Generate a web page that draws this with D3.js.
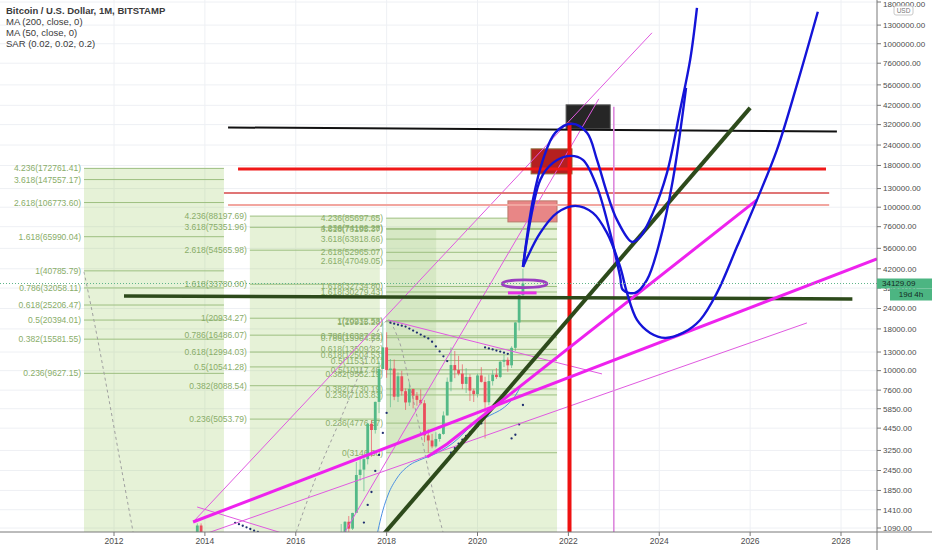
<!DOCTYPE html>
<html><head><meta charset="utf-8">
<script src="https://cdn.jsdelivr.net/npm/d3@7"></script>
<style>body{margin:0;background:#fff;} svg{display:block;font-family:"Liberation Sans",Arial,sans-serif;}</style>
</head><body><svg id="c" width="932" height="550"></svg>
<script>
// ---------------- DATA ----------------
const xTicks = [2012,2014,2016,2018,2020,2022,2024,2026,2028];
const yTicks = [1800000,1300000,1000000,760000,560000,420000,320000,240000,180000,130000,100000,76000,56000,42000,32000,24000,18000,13000,10000,7600,5850,4450,3250,2450,1850,1410,1090];
const lastPrice = 34129.09;
const countdown = "19d 4h";
const legendLines = ["Bitcoin / U.S. Dollar, 1M, BITSTAMP","MA (200, close, 0)","MA (50, close, 0)","SAR (0.02, 0.02, 0.2)"];

// monthly candles [month, open, high, low, close]
const candles = [
["2013-10",128,216,105,204],["2013-11",204,1163,199,1129],["2013-12",1129,1163,450,732],["2014-01",732,995,730,800],["2014-02",800,830,420,550],
["2016-12",745,980,740,963],
["2017-01",963,1153,752,970],["2017-02",970,1200,915,1190],["2017-03",1190,1290,890,1080],["2017-04",1080,1350,1060,1348],
["2017-05",1348,2760,1348,2300],["2017-06",2300,3000,2120,2480],["2017-07",2480,2930,1830,2875],["2017-08",2875,4780,2670,4735],
["2017-09",4735,4980,2972,4335],["2017-10",4335,6470,4120,6440],["2017-11",6440,11400,5500,10233],["2017-12",10233,19666,10900,13880],
["2018-01",13880,17176,9035,10100],["2018-02",10100,11780,5968,10300],["2018-03",10300,11700,6600,6926],["2018-04",6926,9760,6430,9240],
["2018-05",9240,9990,7040,7490],["2018-06",7490,7780,5750,6390],["2018-07",6390,8500,6080,7730],["2018-08",7730,7750,5880,7030],
["2018-09",7030,7400,6100,6625],["2018-10",6625,7680,6200,6317],["2018-11",6317,6600,3650,4020],["2018-12",4020,4380,3146,3740],
["2019-01",3740,4100,3350,3440],["2019-02",3440,4200,3380,3820],["2019-03",3820,4140,3680,4100],["2019-04",4100,5630,4050,5320],
["2019-05",5320,9080,5320,8550],["2019-06",8550,13880,7480,10820],["2019-07",10820,13200,9000,10080],["2019-08",10080,12330,9350,9590],
["2019-09",9590,10930,7710,8300],["2019-10",8300,10370,7300,9150],["2019-11",9150,9510,6520,7550],["2019-12",7550,7740,6430,7190],
["2020-01",7190,9570,6850,9350],["2020-02",9350,10500,8450,8540],["2020-03",8540,9180,3850,6410],["2020-04",6410,9460,6150,8630],
["2020-05",8630,10070,8100,9450],["2020-06",9450,10380,8900,9140],["2020-07",9140,11450,8990,11340],["2020-08",11340,12470,10520,11650],
["2020-09",11650,12060,9830,10780],["2020-10",10780,14100,10380,13790],["2020-11",13790,19850,13200,19710],["2020-12",19710,29300,17570,28980],
["2021-01",28980,41970,28130,34129.09]
];

// MA(50) [decimal year, price]
const ma50 = [[2017.75,880],[2017.92,1405],[2018.03,1735],[2018.23,2205],[2018.51,2649],[2018.73,2842],[2019.11,3137],[2019.46,3611],[2019.90,4655],[2020.21,5208],[2020.65,6170],[2020.83,7002],[2020.94,7950]];

// SAR dots [month, value]
const sar = [
["2014-09",1172],["2014-10",1150],["2014-11",1125],["2014-12",1100],["2015-01",1075],["2015-02",1050],["2015-03",1030],
["2017-07",1176],["2017-08",1508],["2017-09",1810],["2017-10",2434],["2017-11",3050],["2017-12",4157],["2018-01",5510],
["2018-02",19666],["2018-03",19392],["2018-04",19124],["2018-05",18855],["2018-06",18597],["2018-07",18083],["2018-08",17590],
["2018-09",17097],["2018-10",16623],["2018-11",16168],["2018-12",15750],["2019-01",15024],["2019-02",14072],["2019-03",13120],
["2019-04",12244],["2019-05",11437],
["2019-06",3146],["2019-07",3361],["2019-08",3571],["2019-09",3781],["2019-10",3986],["2019-11",4184],["2019-12",4378],["2020-01",4568],["2020-02",4754],
["2020-03",13880],["2020-04",13679],["2020-05",13478],["2020-06",13278],["2020-07",13077],["2020-08",12877],["2020-09",12676],
["2020-10",3850],["2020-11",4055],["2020-12",4687],["2021-01",6164]
];

// Fibonacci extensions [ratio, price]
const fib1 = [[4.236,172761.41],[3.618,147557.17],[2.618,106773.60],[1.618,65990.04],[1,40785.79],[0.786,32058.11],[0.618,25206.47],[0.5,20394.01],[0.382,15581.55],[0.236,9627.15]];
const fib2 = [[4.236,88197.69],[3.618,75351.96],[2.618,54565.98],[1.618,33780.00],[1,20934.27],[0.786,16486.07],[0.618,12994.03],[0.5,10541.28],[0.382,8088.54],[0.236,5053.79]];
const fib3a = [[4.236,74182.28],[3.618,63818.66],[2.618,47049.05],[1.618,30279.43],[1,19915.28],[0.786,16327.22],[0.618,13509.82],[0.5,11531.01],[0.382,9552.19],[0.236,7103.83],[0,3146.30]];
const fib3b = [[4.236,85697.65],[3.618,73195.37],[2.618,52965.07],[1.618,32734.80],[1,20232.53],[0.786,15904.53],[0.618,12504.53],[0.5,10117.46],[0.382,7730.19],[0.236,4776.57]];
// fib time spans [start year, end year, zero-level price]
const fib1Span = [2011.34, 2014.42, 2.2];
const fib2Span = [2014.99, 2017.85, 148.4];
const fib3Span = [2017.99, 2021.75, 2.2];
const fibInnerBox = [2017.99, 2019.09, 74182.28, 3146.30];

// rectangles [x0, x1, priceTop, priceBottom]
const boxBlack = [2021.95, 2022.92, 422800, 301600];
const boxRed   = [2021.18, 2022.08, 227400, 159900];
const boxPink  = [2020.67, 2021.75, 109300, 81300];

// trend lines [[year, price], ...]
const lineBlack   = [[2014.51,307500],[2027.91,290100]];
const lineRed     = [[2014.73,171000],[2027.67,171000]];
const lineRose1   = [[2014.42,122300],[2027.74,122300]];
const lineRose2   = [[2014.51,103300],[2027.74,103300]];
const lineRedV    = [[2022.025,330000],[2022.025,900]];
const linePinkV   = [[2023.0,411000],[2023.0,900]];
const lineGreenH  = [[2012.22,28660],[2028.25,27480]];
const lineGreenD  = [[2017.92,988],[2026.0,405000]];
const lineMagC    = [[2013.74,1186],[2028.79,48300]];
const lineMagD    = [[2018.89,2964],[2019.33,3560],[2026.15,110900]];
const thinA       = [[2013.74,1186],[2023.84,1166000]];
const thinB       = [[2017.08,1030],[2022.67,460000]];
const thinE       = [[2014.00,1002],[2027.25,19590]];
const thinF       = [[2013.83,1465],[2015.70,1015]];
const thinG       = [[2018.03,20430],[2022.74,9550]];
const shortMag    = [[2020.67,29900],[2021.30,29900]];
const ellipseBox  = [2020.54, 2021.53, 35900, 32200];

// gray dashed arcs
const arc1 = [[2011.34,40200],[2011.60,17760],[2011.85,7621],[2012.13,2842],[2012.42,1030]];
const arc2 = [[2016.01,1030],[2016.49,2399],[2016.93,4655],[2017.30,8178],[2017.63,13770],[2017.85,18260],[2018.03,20150],[2018.25,15860],[2018.51,8178],[2018.78,3767],[2019.02,1810],[2019.24,1030]];

// blue projection curves
const curveTop = [[2021.00,43100],[2021.22,110900],[2021.44,194800],[2021.71,285000],[2022.08,323600],[2022.41,285000],[2022.63,194800],[2022.85,122300],[2023.07,83600],[2023.40,61350],[2023.58,65800],[2023.86,92300],[2024.17,162200],[2024.46,394000],[2024.68,797000],[2024.83,1659000]];
const curveMid = [[2021.00,43100],[2021.38,146900],[2021.66,186800],[2022.04,206100],[2022.32,194800],[2022.63,133100],[2022.92,69600],[2023.14,37450],[2023.20,31180],[2023.47,29900],[2023.73,35900],[2024.02,63100],[2024.30,146900],[2024.59,537000]];
const curveLow = [[2021.00,43100],[2021.38,69600],[2021.75,92300],[2022.15,101900],[2022.54,92300],[2022.85,69600],[2023.14,43100],[2023.29,29900],[2023.51,20430],[2023.80,17010],[2024.13,15860],[2024.52,17010],[2024.90,20430],[2025.27,29900],[2025.71,57200],[2026.15,110900],[2026.59,224200],[2027.03,560000],[2027.49,1568000]];

// ---------------- CHART ----------------
const PR = 877, PB = 532;
const svg = d3.select("#c");
const x = d3.scaleLinear().domain([2012, 2028]).range([114, 841]);
const y = d3.scaleLog().domain([1090, 1800000]).range([528, 2]);
const dy = s => { const [a,b] = s.split("-").map(Number); return a + (b-1)/12; };

svg.append("rect").attr("width",932).attr("height",550).attr("fill","#fff");
svg.append("defs").append("clipPath").attr("id","clip").append("rect").attr("width",PR).attr("height",PB);
const g = svg.append("g").attr("clip-path","url(#clip)");

// grid
g.selectAll(".gx").data(xTicks).join("line").attr("x1",d=>x(d)).attr("x2",d=>x(d)).attr("y1",0).attr("y2",PB).attr("stroke","#eef0f4");
g.selectAll(".gy").data(yTicks).join("line").attr("x1",0).attr("x2",PR).attr("y1",d=>y(d)).attr("y2",d=>y(d)).attr("stroke","#eef0f4");

// fib backgrounds
const fibBg = "rgba(139,195,74,0.22)";
function fibBack(levels, span){
  g.append("rect").attr("x",x(span[0])).attr("width",x(span[1])-x(span[0]))
   .attr("y",y(levels[0][1])).attr("height",y(span[2])-y(levels[0][1])).attr("fill",fibBg);
}
fibBack(fib1, fib1Span); fibBack(fib2, fib2Span); fibBack(fib3b, fib3Span);
g.append("rect").attr("x",x(fibInnerBox[0])).attr("width",x(fibInnerBox[1])-x(fibInnerBox[0]))
  .attr("y",y(fibInnerBox[2])).attr("height",y(fibInnerBox[3])-y(fibInnerBox[2])).attr("fill","rgba(110,170,70,0.13)");

function fibLines(levels, span){
  const gg = g.append("g");
  gg.selectAll("line").data(levels).join("line")
    .attr("x1",x(span[0])).attr("x2",x(span[1])).attr("y1",d=>y(d[1])).attr("y2",d=>y(d[1]))
    .attr("stroke","#9dbf80").attr("stroke-width",1);
  gg.selectAll("text").data(levels).join("text")
    .attr("x",x(span[0])-3).attr("y",d=>y(d[1])).attr("dy","0.35em").attr("text-anchor","end")
    .attr("font-size","8.5px").attr("fill","#89ad69")
    .text(d=>`${d[0]}(${d[1].toFixed(2)})`);
}
fibLines(fib1, fib1Span); fibLines(fib2, fib2Span); fibLines(fib3a, fib3Span); fibLines(fib3b, fib3Span);

// gray dashed arcs
const cr = d3.line().x(d=>x(d[0])).y(d=>y(d[1])).curve(d3.curveCatmullRom);
[arc1, arc2].forEach(a => g.append("path").attr("d",cr(a)).attr("fill","none").attr("stroke","#a0a0a0").attr("stroke-width",1).attr("stroke-dasharray","3,3"));

// boxes
function box(b, fill, stroke){
  g.append("rect").attr("x",x(b[0])).attr("width",x(b[1])-x(b[0])).attr("y",y(b[2])).attr("height",y(b[3])-y(b[2]))
   .attr("fill",fill).attr("stroke",stroke).attr("stroke-width",1);
}
box(boxPink,"#e88686","#b97a6a");
box(boxRed,"#b52020","#8c6a3a");
box(boxBlack,"#262626","#555");

// candles
const up="#53b987", dn="#eb4d5c", bw=2.8;
const cg = g.append("g");
candles.forEach(c => {
  const t = dy(c[0]), cx = x(t), col = c[4] >= c[1] ? up : dn;
  cg.append("line").attr("x1",cx).attr("x2",cx).attr("y1",y(c[2])).attr("y2",y(c[3])).attr("stroke",col).attr("stroke-opacity",0.65).attr("stroke-width",1);
  const top = y(Math.max(c[1],c[4])), bot = y(Math.min(c[1],c[4]));
  cg.append("rect").attr("x",cx-bw/2).attr("width",bw).attr("y",top).attr("height",Math.max(1,bot-top)).attr("fill",col);
});

// MA 50
g.append("path").attr("d",d3.line().x(d=>x(d[0])).y(d=>y(d[1])).curve(d3.curveMonotoneX)(ma50))
  .attr("fill","none").attr("stroke","#4a90e2").attr("stroke-width",1);

// SAR
g.selectAll(".sar").data(sar).join("circle").attr("cx",d=>x(dy(d[0]))).attr("cy",d=>y(d[1])).attr("r",1.15).attr("fill","#1f2f70");

// straight lines
const ln = d3.line().x(d=>x(d[0])).y(d=>y(d[1]));
function line(p, col, w){ g.append("path").attr("d",ln(p)).attr("fill","none").attr("stroke",col).attr("stroke-width",w); }
line(thinF,"#e05ae0",1); line(thinG,"#e05ae0",1);
line(thinA,"#e05ae0",1); line(thinB,"#e05ae0",1); line(thinE,"#e05ae0",1);
line(lineRose1,"#e07575",2); line(lineRose2,"#f2a6a0",2);
line(lineRed,"#f01818",3);
line(lineBlack,"#111",2);
line(linePinkV,"#dd88dd",1.6);
line(lineRedV,"#ee1111",4);
line(lineGreenH,"#2d4a1b",3.5);
line(lineGreenD,"#2d4a1b",4);
line(lineMagC,"#ee22ee",3);
line(lineMagD,"#ee22ee",3);
line(shortMag,"#e62ee6",3);

// blue curves
[curveTop, curveMid, curveLow].forEach(c => g.append("path").attr("d",cr(c)).attr("fill","none").attr("stroke","#1414d8").attr("stroke-width",2.4));

// ellipse
const ex0=x(ellipseBox[0]), ex1=x(ellipseBox[1]), ey0=y(ellipseBox[2]), ey1=y(ellipseBox[3]);
g.append("ellipse").attr("cx",(ex0+ex1)/2).attr("cy",(ey0+ey1)/2).attr("rx",(ex1-ex0)/2).attr("ry",(ey1-ey0)/2)
  .attr("fill","none").attr("stroke","#9b3fc0").attr("stroke-width",2.6);

// last price line
g.append("line").attr("x1",0).attr("x2",PR).attr("y1",y(lastPrice)).attr("y2",y(lastPrice))
  .attr("stroke","#5fb58a").attr("stroke-width",1).attr("stroke-dasharray","1,2");

// ---------------- AXES ----------------
svg.append("line").attr("x1",PR).attr("x2",PR).attr("y1",0).attr("y2",550).attr("stroke","#787878");
svg.append("line").attr("x1",0).attr("x2",932).attr("y1",PB).attr("y2",PB).attr("stroke","#787878");
const ya = svg.append("g");
yTicks.forEach(v => {
  ya.append("line").attr("x1",PR).attr("x2",PR+4).attr("y1",y(v)).attr("y2",y(v)).attr("stroke","#787878");
  ya.append("text").attr("x",PR+6).attr("y",Math.max(y(v),4)).attr("dy","0.35em").attr("font-size","8px").attr("fill","#4d4d4d").text(d3.format(".2f")(v));
});
const xa = svg.append("g");
xTicks.forEach(v => {
  xa.append("line").attr("x1",x(v)).attr("x2",x(v)).attr("y1",PB).attr("y2",PB+4).attr("stroke","#787878");
  xa.append("text").attr("x",x(v)).attr("y",541).attr("dy","0.35em").attr("text-anchor","middle").attr("font-size","8.5px").attr("fill","#4d4d4d").text(v);
});

// price label
const py = y(lastPrice);
svg.append("rect").attr("x",PR).attr("y",py-5).attr("width",932-PR).attr("height",10).attr("fill","#4cb582");
svg.append("text").attr("x",PR+5).attr("y",py).attr("dy","0.35em").attr("font-size","8px").attr("fill","#132a22").text(d3.format(".2f")(lastPrice));
svg.append("rect").attr("x",890).attr("y",py+5).attr("width",42).attr("height",12).attr("fill","#4cb582");
svg.append("text").attr("x",911).attr("y",py+11).attr("dy","0.35em").attr("text-anchor","middle").attr("font-size","8px").attr("fill","#132a22").text(countdown);

// USD badge
svg.append("rect").attr("x",894).attr("y",6).attr("width",19).attr("height",9).attr("rx",2).attr("fill","#fff").attr("stroke","#c8c8c8");
svg.append("text").attr("x",903.5).attr("y",10.5).attr("dy","0.35em").attr("text-anchor","middle").attr("font-size","6.5px").attr("fill","#777").text("USD");

// legend
legendLines.forEach((t,i) => {
  svg.append("text").attr("x",6).attr("y",11+i*11).attr("dy","0.35em").attr("font-size","9.5px")
    .attr("font-weight", i===0 ? "bold" : "normal").attr("fill","#3a3a3a").text(t);
});
</script></body></html>
